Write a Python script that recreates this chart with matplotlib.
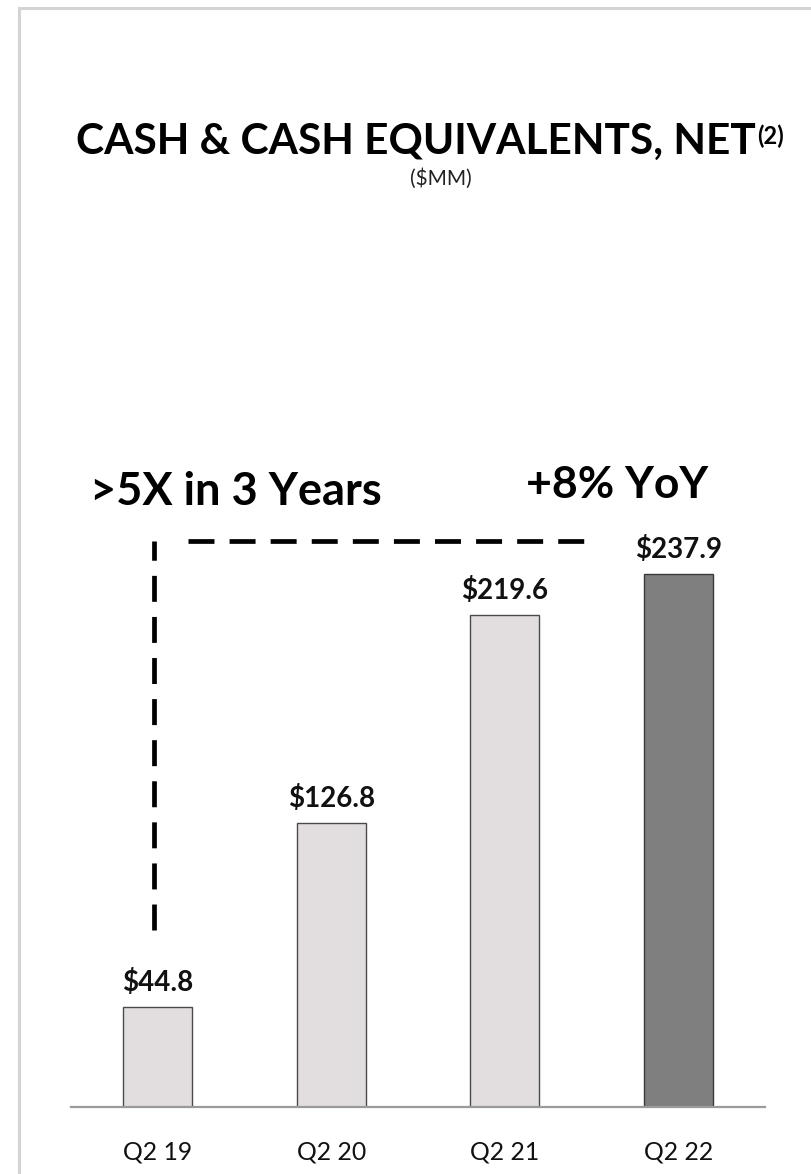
import numpy as np
import matplotlib.pyplot as plt
from matplotlib.lines import Line2D

# Cash & cash equivalents, net ($MM), Q2 of each year
quarters = ['Q2 19', 'Q2 20', 'Q2 21', 'Q2 22']
cash = [44.8, 126.8, 219.6, 237.9]
labels = ['$44.8', '$126.8', '$219.6', '$237.9']
bar_colors = ['#e2dedf', '#e2dedf', '#e2dedf', '#7f7f7f']
edge_colors = ['#4a4a4a', '#4a4a4a', '#4a4a4a', '#3a3a3a']

FONT = 'Lato'
W, H = 812, 1174

fig = plt.figure(figsize=(W / 100, H / 100), dpi=100)

# pixel layout of the plotting area
x0, x1 = 71, 765
y_base = 1107
px_per_unit = 2.24
ymax = 300
ax = fig.add_axes([x0 / W, (H - y_base) / H, (x1 - x0) / W, ymax * px_per_unit / H])

x = np.arange(len(quarters))
ax.bar(x, cash, width=0.4, color=bar_colors, edgecolor=edge_colors, linewidth=1.0, zorder=2)
ax.set_xlim(-0.5, 3.5)
ax.set_ylim(0, ymax)

for xi, v, lab in zip(x, cash, labels):
    ax.annotate(lab, xy=(xi, v), xytext=(0, 8), textcoords='offset points',
                ha='center', va='bottom', fontsize=20, fontweight='bold',
                family=FONT, color='#111111')

for s in ['top', 'right', 'left']:
    ax.spines[s].set_visible(False)
ax.spines['bottom'].set_color('#9a9a9a')
ax.spines['bottom'].set_linewidth(1.6)
ax.set_yticks([])
ax.set_xticks(x)
ax.set_xticklabels(quarters, fontsize=17.8, family=FONT, color='#111111')
ax.tick_params(axis='x', length=0, pad=24)

# growth callouts: dashed bracket from Q2 19 up and across
dash = (0, (5.5, 3.2))
ax.plot([-0.02, -0.02], [79, 252.5], color='black', lw=3.4, linestyle=dash,
        clip_on=False, solid_capstyle='butt', dash_capstyle='butt')
ax.plot([0.175, 2.49], [252.5, 252.5], color='black', lw=3.4, linestyle=dash,
        clip_on=False, dash_capstyle='butt')

ax.text(-0.39, 274.5, '>5X in 3 Years', fontsize=32.5, fontweight='bold',
        family=FONT, ha='left', va='center', clip_on=False)
ax.text(2.12, 277.5, '+8% YoY', fontsize=32, fontweight='bold',
        family=FONT, ha='left', va='center', clip_on=False)

# title block
title = fig.text(416 / W, 1 - 142 / H, 'CASH & CASH EQUIVALENTS, NET', fontsize=30.5,
                 fontweight='bold', family=FONT, ha='center', va='center')
fig.canvas.draw()
ax.annotate('(2)', xy=(1.0, 0.95), xycoords=title, xytext=(1, 0), textcoords='offset points',
            fontsize=17, fontweight='bold', family=FONT, ha='left', va='top',
            annotation_clip=False)
fig.text(441 / W, 1 - 179 / H, '($MM)', fontsize=15, family=FONT,
         ha='center', va='center', color='#222222')

# light frame around the panel
fig.add_artist(Line2D([19 / W, 1], [1 - 8 / H, 1 - 8 / H], color='#d4d4d4', lw=2.2,
                      transform=fig.transFigure))
fig.add_artist(Line2D([19 / W, 19 / W], [0, 1 - 8 / H], color='#d4d4d4', lw=2.2,
                      transform=fig.transFigure))

fig.savefig('out.png', dpi=100)
